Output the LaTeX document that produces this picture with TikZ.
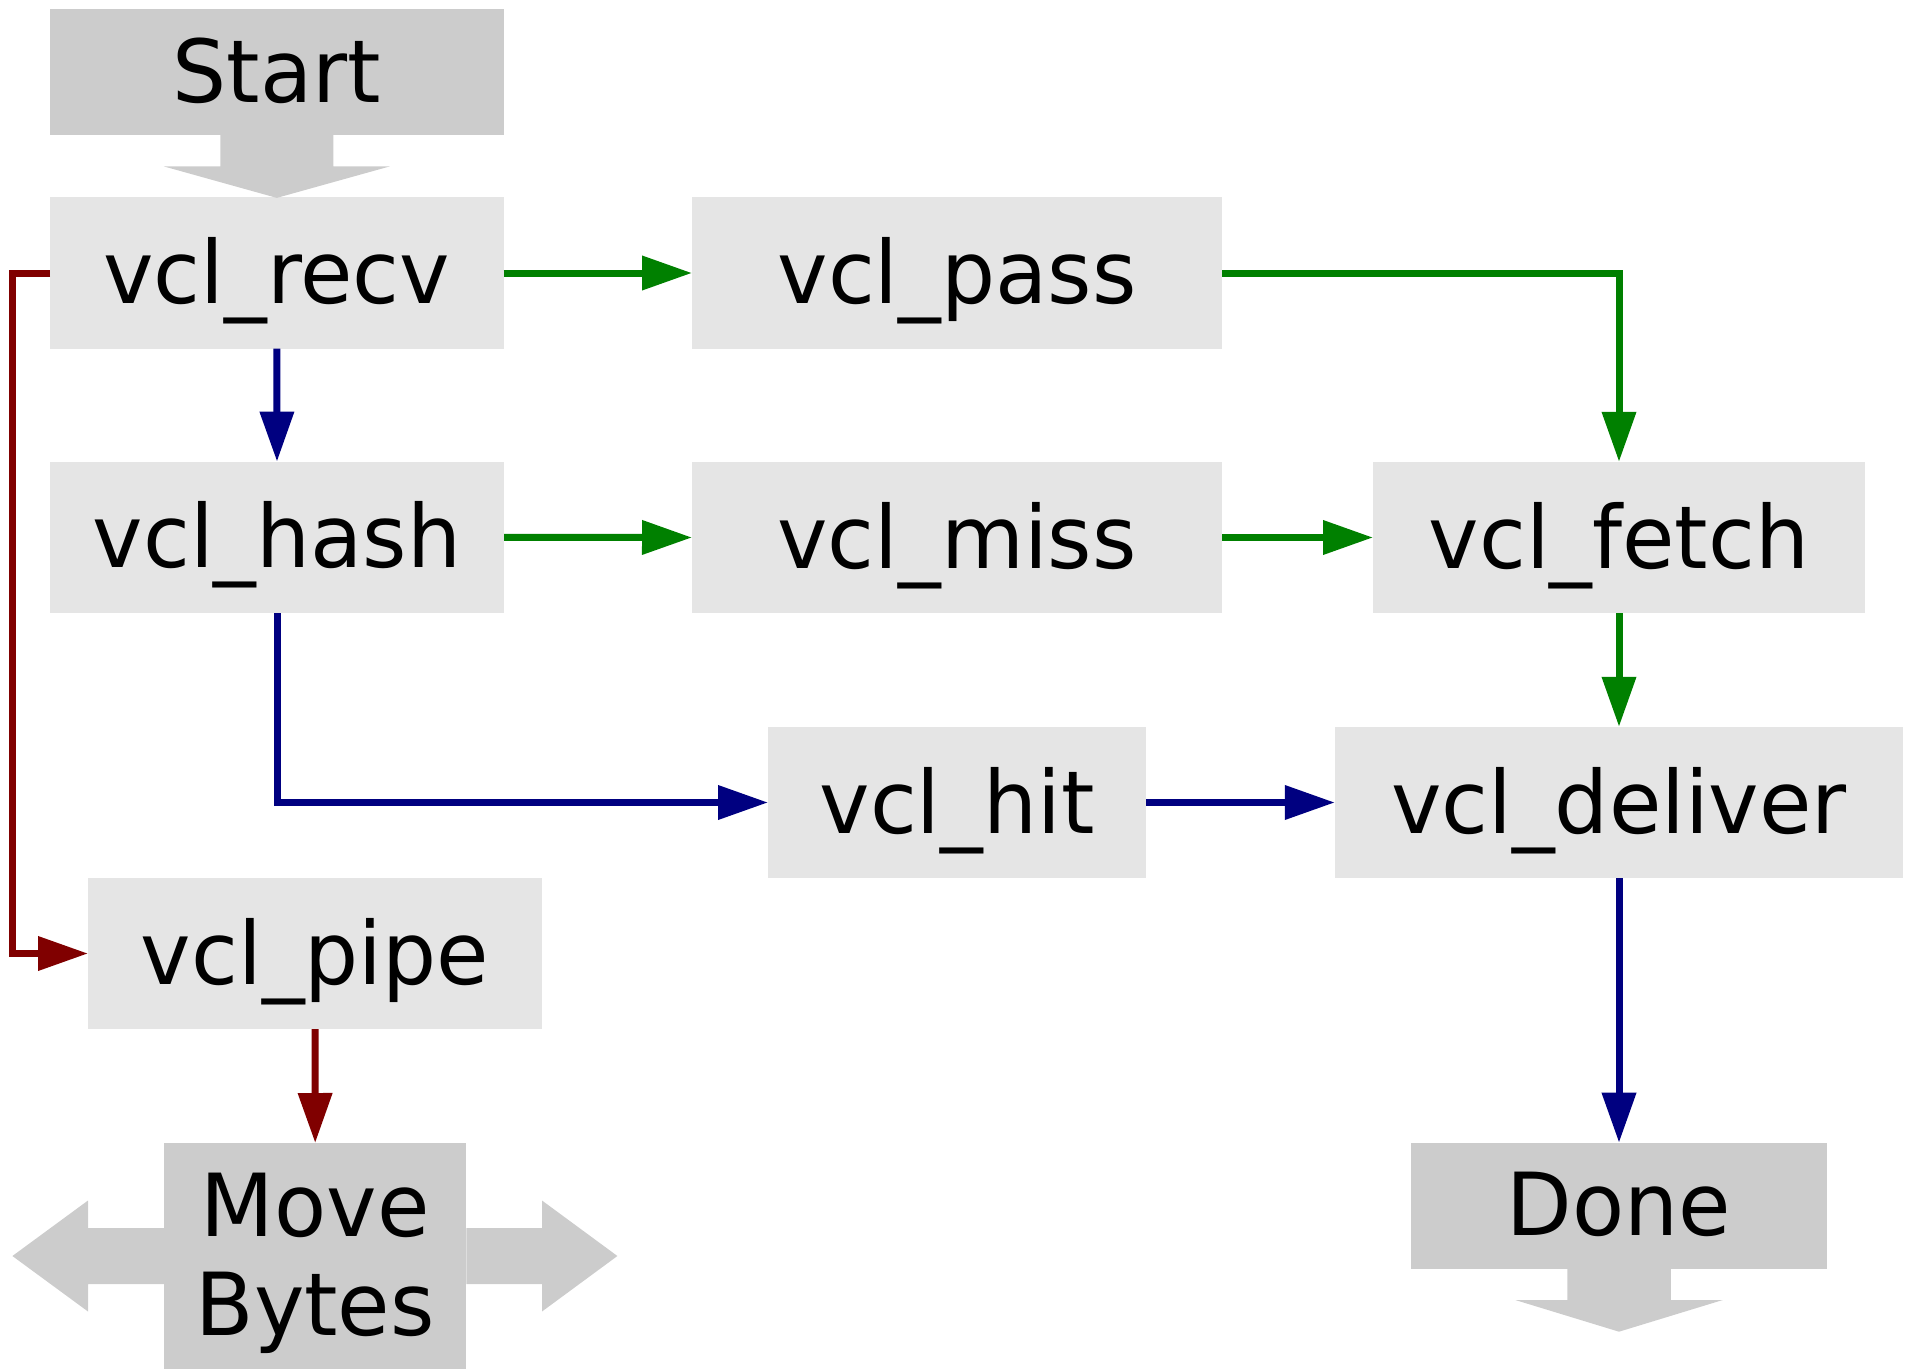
\documentclass[tikz,border=0pt]{standalone}
\usepackage{fontspec}
\setmainfont{DejaVu Sans}[FakeStretch=0.98]
\usetikzlibrary{arrows.meta}
\definecolor{boxl}{HTML}{E5E5E5}
\definecolor{boxd}{HTML}{CCCCCC}
\definecolor{cgreen}{HTML}{008000}
\definecolor{cblue}{HTML}{000080}
\definecolor{cred}{HTML}{800000}
\begin{document}
\begin{tikzpicture}[x=0.5pt,y=-0.5pt,
  every node/.style={inner sep=0pt, outer sep=0pt, font=\fontsize{43.5pt}{49.15pt}\selectfont},
  fn/.style={fill=boxl, minimum height=75.7pt, text height=30.5pt, text depth=0pt},
  term/.style={fill=boxd, minimum height=63pt, text height=30.2pt, text depth=0pt},
  conn/.style={line width=3.5pt, -{Triangle[length=25pt,width=16.5pt]}},
  flowg/.style={conn, draw=cgreen},
  flowb/.style={conn, draw=cblue},
  flowr/.style={conn, draw=cred},
]
\useasboundingbox (0,0) rectangle (1911,1370);

% nodes
\node[term, minimum width=226.8pt] (start) at (276.8,71.9) {Start};
\node[fn, minimum width=226.8pt] (recv) at (276.8,273) {vcl\_recv};
\node[fn, minimum width=265pt] (pass) at (957,273) {vcl\_pass};
\node[fn, minimum width=227pt] (hash) at (277,537.3) {vcl\_hash};
\node[fn, minimum width=265pt] (miss) at (957,537.5) {vcl\_miss};
\node[fn, minimum width=246pt] (fetch) at (1619,537.5) {vcl\_fetch};
\node[fn, minimum width=189pt] (hit) at (957,802.5) {vcl\_hit};
\node[fn, minimum width=284.2pt] (deliver) at (1619,802.5) {vcl\_deliver};
\node[fn, minimum width=227pt] (pipe) at (315,953.5) {vcl\_pipe};
\node[fill=boxd, minimum width=151.2pt, minimum height=113pt, text height=0pt, text depth=19.3pt] (move) at (315.2,1256)
  {\begin{tabular}[t]{@{}c@{}}Move\\Bytes\end{tabular}};
\node[term, minimum width=208.3pt] (done) at (1619,1205.7) {Done};

% block arrows
\fill[boxd] (start.south) ++(-56.5,0) -- ++(0,31.5) -- ++(-56.5,0) -- ++(113,31.5)
  -- ++(113,-31.5) -- ++(-56.5,0) -- ++(0,-31.5) -- cycle;
\fill[boxd] (done.south) ++(-51.75,0) -- ++(0,31.3) -- ++(-52,0) -- ++(103.75,31.7)
  -- ++(103.75,-31.7) -- ++(-52,0) -- ++(0,-31.3) -- cycle;
\fill[boxd] (move.west) ++(0,-28) -- ++(-76,0) -- ++(0,-27.5) -- ++(-75.6,55.5)
  -- ++(75.6,55.5) -- ++(0,-27.5) -- ++(76,0) -- cycle;
\fill[boxd] (move.east) ++(0,-28) -- ++(75.6,0) -- ++(0,-27.5) -- ++(75.4,55.5)
  -- ++(-75.4,55.5) -- ++(0,-27.5) -- ++(-75.6,0) -- cycle;

% connectors
\draw[flowg] (recv.east) -- (pass.west);
\draw[flowg] (pass.east) -| (fetch.north);
\draw[flowg] (hash.east) -- (miss.west);
\draw[flowg] (miss.east) -- (fetch.west);
\draw[flowg] (fetch.south) -- (deliver.north);
\draw[flowb] (recv.south) -- (hash.north);
\draw[flowb] (hash.south) |- (hit.west);
\draw[flowb] (hit.east) -- (deliver.west);
\draw[flowb] (deliver.south) -- (done.north);
\draw[flowr] (recv.west) -- ++(-38,0) |- (pipe.west);
\draw[flowr] (pipe.south) -- (move.north);
\end{tikzpicture}
\end{document}
